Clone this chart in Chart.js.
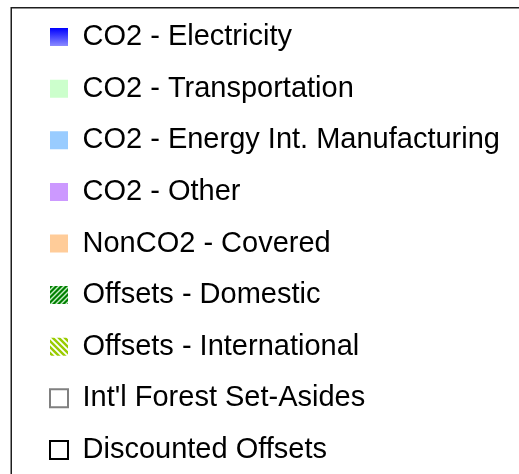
<!DOCTYPE html>
<html>
<head>
<meta charset="utf-8">
<script src="https://cdn.jsdelivr.net/npm/chart.js@4/dist/chart.umd.min.js"></script>
<style>
  html, body { margin: 0; padding: 0; overflow: hidden; background: #fff; }
  canvas { display: block; }
</style>
</head>
<body>
<!-- canvas is twice the window height so the legend box may use the full visible height -->
<canvas id="legend_chart" width="519" height="948"></canvas>
<script>
// legend entries (the bars themselves are not part of this crop)
const series_names = [
  "CO2 - Electricity",
  "CO2 - Transportation",
  "CO2 - Energy Int. Manufacturing",
  "CO2 - Other",
  "NonCO2 - Covered",
  "Offsets - Domestic",
  "Offsets - International",
  "Int'l Forest Set-Asides",
  "Discounted Offsets"
];
const categories = [];
const series_values = series_names.map(() => []);

const font_size = 29;
const box_size = 18;

const canvas = document.getElementById('legend_chart');
const ctx = canvas.getContext('2d');

// diagonal hatch fill for the offsets swatches
function stripes(base, line, dir, size, lw) {
  const c = document.createElement('canvas');
  c.width = c.height = size;
  const g = c.getContext('2d');
  g.fillStyle = base;
  g.fillRect(0, 0, size, size);
  g.strokeStyle = line;
  g.lineWidth = lw;
  g.beginPath();
  if (dir === '/') {
    g.moveTo(-1, 1); g.lineTo(1, -1);
    g.moveTo(0, size); g.lineTo(size, 0);
    g.moveTo(size - 1, size + 1); g.lineTo(size + 1, size - 1);
  } else {
    g.moveTo(-1, size - 1); g.lineTo(1, size + 1);
    g.moveTo(0, 0); g.lineTo(size, size);
    g.moveTo(size - 1, -1); g.lineTo(size + 1, 1);
  }
  g.stroke();
  return ctx.createPattern(c, 'repeat');
}

const fills = [
  '#4040ff',
  '#ccffcc',
  '#99ccff',
  '#cc99ff',
  '#ffcc99',
  stripes('#008000', 'rgba(235,255,235,0.85)', '/', 5, 1.4),
  stripes('#99cc00', '#ffffff', '\\', 6, 1.8),
  '#ffffff',
  '#ffffff'
];
const borders = ['#000', '#000', '#000', '#000', '#000', '#000', '#000', '#808080', '#000000'];
const border_widths = [0, 0, 0, 0, 0, 0, 0, 2, 2];

// electricity swatch is a blue fade, set once the legend has its place
const electricity_gradient = {
  id: 'electricity_gradient',
  beforeDraw(chart) {
    const lg = chart.legend;
    if (!lg || !lg.legendItems || !lg.legendItems.length) return;
    const top = lg.legendHitBoxes.length ? lg.legendHitBoxes[0].top : lg.top + lg.options.labels.padding;
    const y0 = top + (font_size - box_size) / 2;
    const grad = chart.ctx.createLinearGradient(0, y0, 0, y0 + box_size);
    grad.addColorStop(0, '#0000ff');
    grad.addColorStop(1, '#8c8cff');
    lg.legendItems[0].fillStyle = grad;
  }
};

// outer frame of the legend panel
const frame = {
  id: 'frame',
  afterDraw(chart) {
    const c = chart.ctx;
    c.save();
    c.strokeStyle = '#1e1e1e';
    c.lineWidth = 1.5;
    c.strokeRect(11.25, 7.75, chart.width, chart.height);
    c.restore();
  }
};

new Chart(canvas, {
  type: 'bar',
  data: {
    labels: categories,
    datasets: series_names.map((name, i) => ({
      label: name,
      data: series_values[i],
      backgroundColor: fills[i],
      borderColor: borders[i],
      borderWidth: border_widths[i]
    }))
  },
  options: {
    responsive: false,
    animation: false,
    events: [],
    layout: { padding: { left: 27.4, top: 0, right: 0, bottom: 0 } },
    scales: {
      x: { display: false },
      y: { display: false }
    },
    plugins: {
      tooltip: { enabled: false },
      legend: {
        position: 'top',
        align: 'start',
        labels: {
          boxWidth: box_size,
          boxHeight: box_size,
          padding: 22.6,
          color: '#000',
          font: { family: "'Liberation Sans', Arial, sans-serif", size: font_size }
        }
      }
    }
  },
  plugins: [electricity_gradient, frame]
});
</script>
</body>
</html>
